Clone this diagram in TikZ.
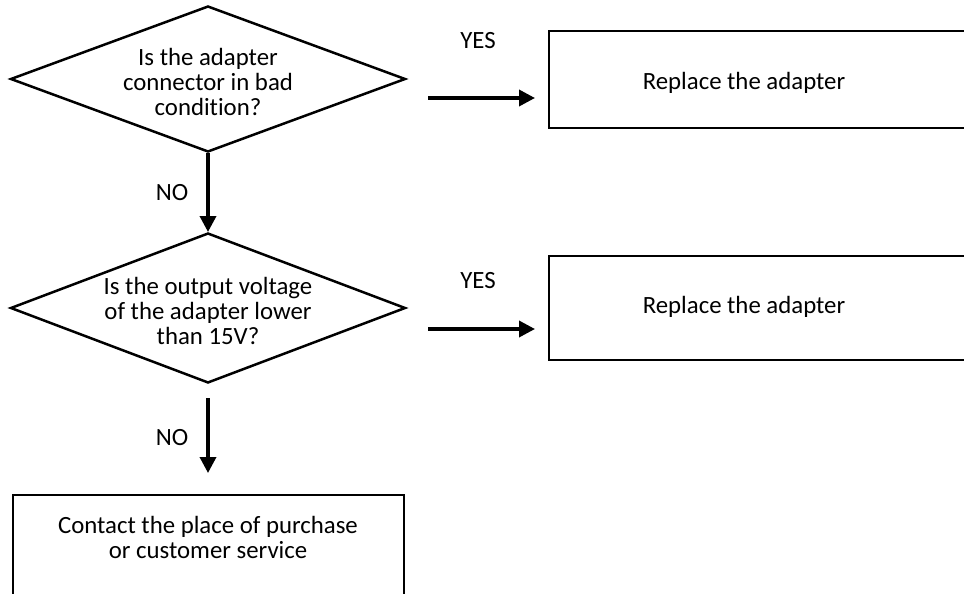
\documentclass[tikz,border=0pt]{standalone}
\usepackage{fontspec}
\setmainfont{Carlito}[Ligatures=NoCommon,RawFeature={-calt}]
\usetikzlibrary{shapes.geometric,arrows.meta}
\begin{document}
\begin{tikzpicture}[x=1pt,y=-1pt,
  every node/.style={font=\fontsize{24.8}{25}\selectfont},
  dia/.style={diamond,draw,line width=2.5pt,inner sep=0pt,minimum width=395pt,minimum height=146pt},
  boxn/.style={draw,line width=2.5pt},
  txt/.style={align=center,inner sep=0pt},
  arr/.style={line width=3.5pt,-{Triangle[length=16pt,width=16pt]}}]
\useasboundingbox (0,0) rectangle (964,594);
\clip (0,0) rectangle (964,594);
% decisions
\node[dia] (d1) at (208,79) {};
\node[txt] (d1t) at (208,82) {Is the adapter\\connector in bad\\condition?};
\node[dia,minimum height=150pt] (d2) at (208,308) {};
\node[txt] (d2t) at (208,311) {Is the output voltage\\of the adapter lower\\than 15V?};
% boxes
\draw[boxn] (549,31) rectangle (1000,128);
\node[txt] (b1t) at (744,83) {Replace the adapter};
\draw[boxn] (549,256) rectangle (1000,360);
\node[txt] (b2t) at (744,307) {Replace the adapter};
\draw[boxn] (13,495) rectangle (404,640);
\node[txt] (b3t) at (208,537) {Contact the place of purchase\\or customer service};
% connectors
\coordinate (a1s) at (428,98);
\coordinate (a1e) at (535,98);
\coordinate (a2s) at (428,329);
\coordinate (a2e) at (535,329);
\coordinate (a3s) at (208,153);
\coordinate (a3e) at (208,232);
\coordinate (a4s) at (208,398);
\coordinate (a4e) at (208,473);
\draw[arr] (a1s) -- (a1e);
\draw[arr] (a2s) -- (a2e);
\draw[arr] (a3s) -- (a3e);
\draw[arr] (a4s) -- (a4e);
% labels
\node (y1) at (478,41) {YES};
\node (y2) at (478,281) {YES};
\node (n1) at (172,193) {NO};
\node (n2) at (172,438) {NO};
\end{tikzpicture}
\end{document}
